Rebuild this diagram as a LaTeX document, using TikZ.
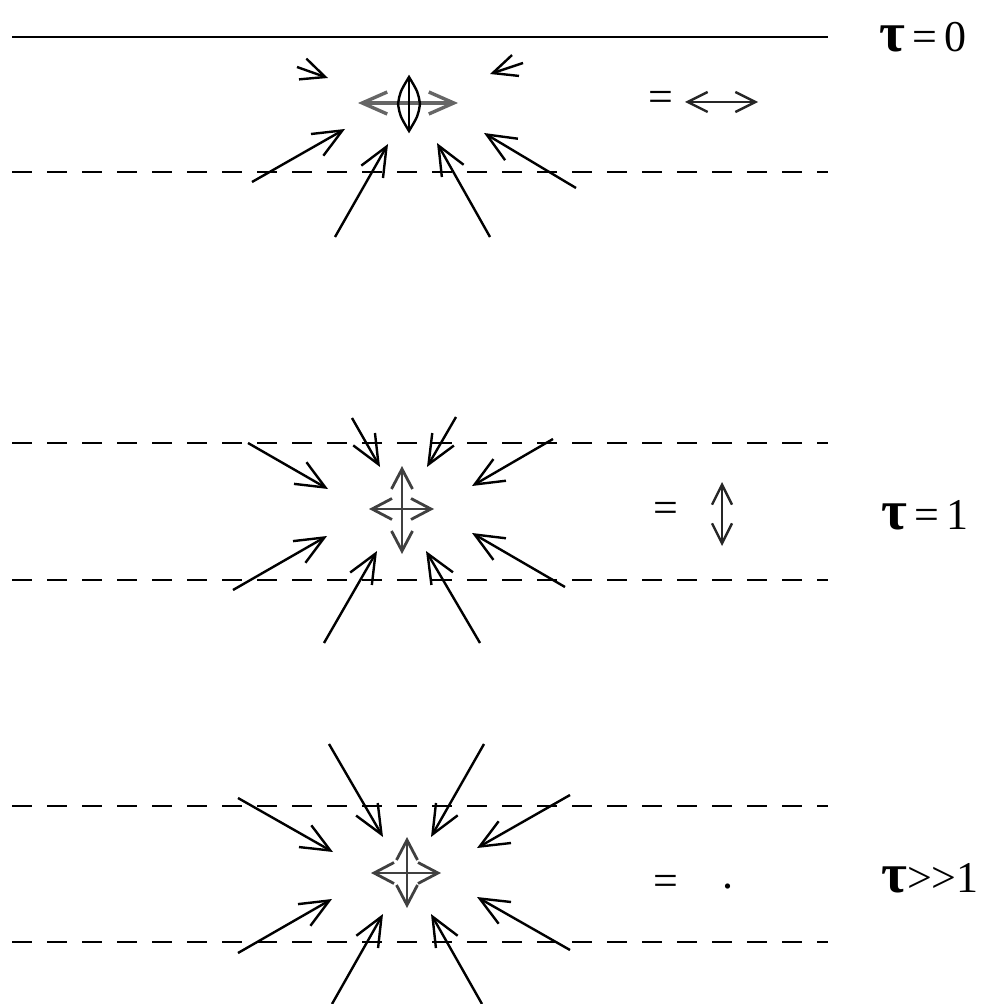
\documentclass[tikz,border=0pt]{standalone}
\usepackage{fontspec}
\setmainfont{Liberation Serif}[Ligatures=NoCommon]
\usetikzlibrary{arrows.meta}
\newcommand{\tauch}{{\fontsize{28}{28}\selectfont\bfseries τ}}
\begin{document}
\begin{tikzpicture}[x=0.5pt,y=-0.5pt,
  inarr/.style={line width=1.2pt,-{Straight Barb[length=14.5pt,width=12.5pt]}},
  smallarr/.style={line width=1.2pt,-{Straight Barb[length=12pt,width=11pt]}},
  crossarr/.style={line width=1.4pt,draw=black!75,{Straight Barb[length=10pt,width=10.5pt]}-{Straight Barb[length=10pt,width=10.5pt]}},
  toparr/.style={line width=1.7pt,draw=black!60,{Straight Barb[length=12.5pt,width=11pt]}-{Straight Barb[length=12.5pt,width=11pt]}},
  symarr/.style={line width=1.2pt,draw=black!85,{Straight Barb[length=10pt,width=10pt]}-{Straight Barb[length=10pt,width=10pt]}},
  dashline/.style={line width=0.8pt,dash pattern=on 10pt off 7.5pt},
  lbl/.style={font=\fontsize{22}{26}\selectfont,inner sep=0pt}
]
\useasboundingbox (0,0) rectangle (982,1004);

% horizontal lines
\draw[line width=1pt] (12,37) -- (828,37);
\foreach \yy in {172,443,580,806,942}
  \draw[dashline] (12,\yy) -- (828,\yy);

% ---------- row 1 (tau = 0)
\draw[smallarr] (297,67) -- (328,78);
\draw[smallarr] (523,63) -- (490,74);
\draw[inarr] (252,182) -- (345,129);
\draw[inarr] (335,237) -- (388,144);
\draw[inarr] (490,237) -- (437,143);
\draw[inarr] (576,188) -- (484,133);
\draw[toparr] (358,103) -- (458,103);
\draw[line width=1.2pt] (409,77) -- (409,131);
\draw[line width=1.2pt] (409,77) .. controls (400,92) .. (398,104) .. controls (400,116) .. (409,131)
  .. controls (418,116) .. (420,104) .. controls (418,92) .. cycle;

% ---------- row 2 (tau = 1)
\draw[inarr] (248,443) -- (328,489);
\draw[inarr] (352,418) -- (380,467);
\draw[inarr] (456,417) -- (427,467);
\draw[inarr] (553,439) -- (472,486);
\draw[inarr] (233,590) -- (327,536);
\draw[inarr] (324,643) -- (377,551);
\draw[inarr] (480,643) -- (426,551);
\draw[inarr] (565,587) -- (472,533);
\draw[crossarr] (369,509) -- (434,509);
\draw[crossarr] (402,466) -- (402,554);

% ---------- row 3 (tau >> 1)
\draw[inarr] (238,798) -- (333,852);
\draw[inarr] (329,744) -- (383,837);
\draw[inarr] (484,744) -- (431,837);
\draw[inarr] (570,795) -- (477,848);
\draw[inarr] (238,953) -- (332,899);
\draw[inarr] (332,1004) -- (383,914);
\draw[inarr] (482,1004) -- (431,914);
\draw[inarr] (570,950) -- (477,897);
\draw[crossarr] (371,873) -- (441,873);
\draw[crossarr] (407,837) -- (407,908);

% ---------- right-hand labels
\node[lbl] (t0) at (923,37) {\tauch\,=\,0};
\node[lbl] (e0) at (661,101) {=};
\coordinate (h0a) at (685,102);
\coordinate (h0b) at (758,102);
\draw[symarr] (h0a) -- (h0b);
\node[lbl] (e1) at (666,512) {=};
\coordinate (v1a) at (722,482);
\coordinate (v1b) at (722,546);
\draw[symarr] (v1a) -- (v1b);
\node[lbl] (t1) at (925,515) {\tauch\,=\,1};
\node[lbl] (e2) at (666,885) {=};
\node[lbl] (dot) at (728,887) {.};
\node[lbl] (t2) at (930,878) {\tauch{}>{}>{}1};
\end{tikzpicture}
\end{document}
